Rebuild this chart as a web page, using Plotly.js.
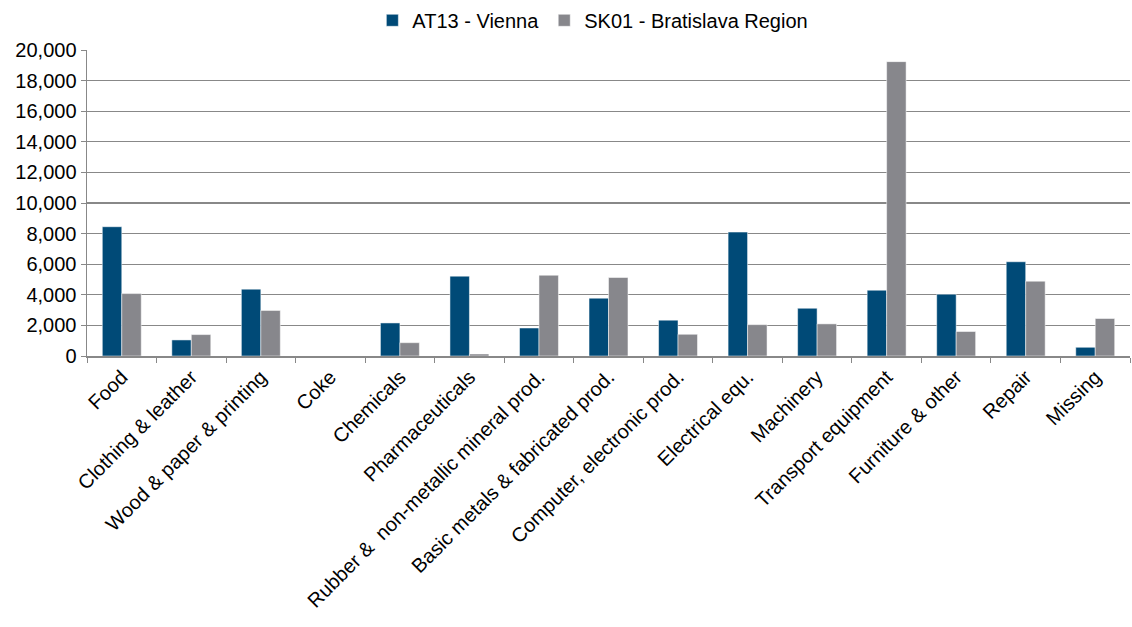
<!DOCTYPE html>
<html>
<head>
<meta charset="utf-8">
<script src="https://cdn.plot.ly/plotly-3.0.1.min.js"></script>
<style>html,body{margin:0;padding:0;background:#fff;}#chart{width:1132px;height:627px;}</style>
</head>
<body>
<div id="chart"></div>
<script>
const categories = ["Food","Clothing & leather","Wood & paper & printing","Coke","Chemicals","Pharmaceuticals","Rubber &  non-metallic mineral prod.","Basic metals & fabricated prod.","Computer, electronic prod.","Electrical equ.","Machinery","Transport equipment","Furniture & other","Repair","Missing"];
const vienna = [8450, 1050, 4370, 0, 2160, 5220, 1830, 3780, 2340, 8100, 3120, 4300, 4040, 6160, 570];
const bratislava = [4080, 1400, 2980, 0, 870, 130, 5280, 5130, 1420, 2050, 2100, 19240, 1600, 4890, 2450];
const seriesNames = ["AT13 - Vienna", "SK01 - Bratislava Region"];
const yTicks = [0,2000,4000,6000,8000,10000,12000,14000,16000,18000,20000];

const traces = [
  {type:"bar", name:seriesNames[0], x:categories, y:vienna, marker:{color:"#004A77", line:{color:"#ffffff", width:0.5}}},
  {type:"bar", name:seriesNames[1], x:categories, y:bratislava, marker:{color:"#87878C", line:{color:"#ffffff", width:0.5}}}
];
const layout = {
  width:1132, height:627,
  margin:{l:87, r:2, t:49, b:271},
  paper_bgcolor:"#fff", plot_bgcolor:"#fff",
  font:{family:"Liberation Sans, Arial, sans-serif", size:20, color:"#000"},
  barmode:"group", bargap:0.44, bargroupgap:0,
  showlegend:true,
  legend:{orientation:"h", x:0.485, xanchor:"center", y:1.03, yanchor:"bottom", font:{size:20}, itemwidth:20, traceorder:"normal"},
  xaxis:{type:"category", tickangle:-45, tickson:"boundaries", ticks:"outside", ticklen:5, tickcolor:"#888", showline:true, linecolor:"#888", linewidth:1.5, showgrid:false, tickfont:{size:20}, automargin:false},
  yaxis:{range:[0,20000], tickvals:yTicks, tickformat:",d", ticks:"outside", ticklen:5, tickcolor:"#888", showline:true, linecolor:"#888", linewidth:1.5, showgrid:true, gridcolor:"#888", gridwidth:1.3, zeroline:false, tickfont:{size:20}, automargin:false}
};
Plotly.newPlot("chart", traces, layout, {displayModeBar:false, staticPlot:true});
</script>
</body>
</html>
